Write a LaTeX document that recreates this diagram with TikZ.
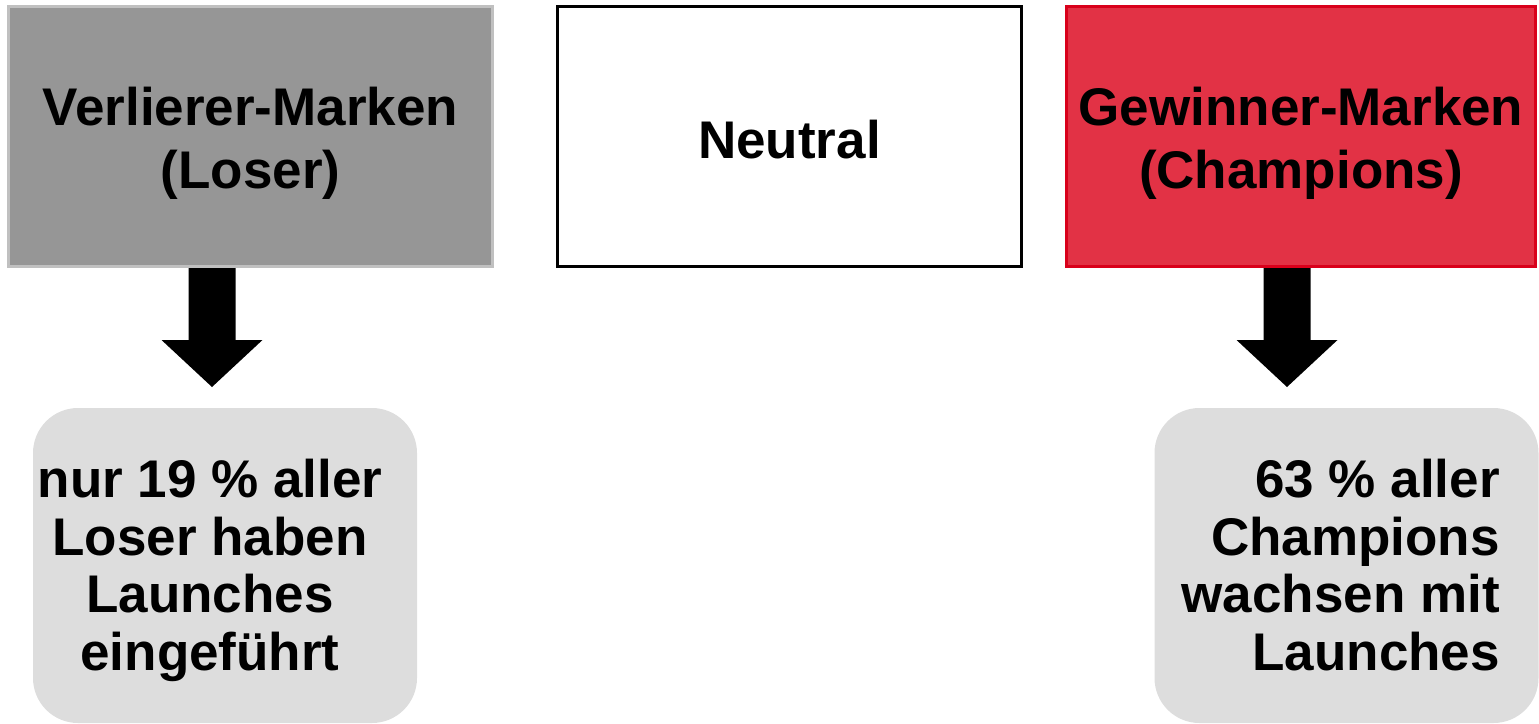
\documentclass[tikz,border=0pt]{standalone}
\usepackage{fontspec}
\setmainfont{Liberation Sans}
\definecolor{loserfill}{HTML}{969696}
\definecolor{loserline}{HTML}{C0C0C0}
\definecolor{champfill}{HTML}{E23245}
\definecolor{champline}{HTML}{D9001B}
\definecolor{notebg}{HTML}{DDDDDD}
\begin{document}
\begin{tikzpicture}[x=1pt,y=-1pt,
  catbox/.style={rectangle, line width=3pt, minimum width=#1,
    minimum height=260pt, inner sep=0pt, outer sep=0pt},
  notebox/.style={rectangle, rounded corners=45pt, fill=notebg,
    minimum width=384pt, minimum height=315pt, inner sep=0pt, outer sep=0pt},
  headtxt/.style={inner sep=0pt, anchor=base, align=center,
    font=\fontsize{53pt}{63pt}\selectfont\bfseries},
  notetxt/.style={inner sep=0pt, align=#1,
    font=\fontsize{53pt}{57.5pt}\selectfont\bfseries},
  blockarrow/.style={fill=black}
]
\useasboundingbox (0,0) rectangle (1539,723);

% category boxes
\node[catbox=484pt, fill=loserfill, draw=loserline] (loser) at (250.5,136.5) {};
\node[catbox=464pt, fill=white, draw=black] (neutral) at (789.5,136.5) {};
\node[catbox=469pt, fill=champfill, draw=champline] (champ) at (1301,136.5) {};

% (base anchor of a multi-line node sits on its last line)
\node[headtxt] (losertxt) at (250.5,188) {Verlierer-Marken\\(Loser)};
\node[headtxt] (neutraltxt) at (789.5,158) {Neutral};
\node[headtxt] (champtxt) at (1301,188) {Gewinner-Marken\\(Champions)};

% result boxes
\node[notebox] (losernote) at (225,565.5) {};
\node[notebox] (champnote) at (1346.5,565.5) {};

\node[notetxt=center, anchor=base] (losernotetxt) at (210,670)
  {nur 19 \% aller\\Loser haben\\Launches\\eingeführt};
\node[notetxt=right, anchor=base east] (champnotetxt) at (1500,670)
  {63 \% aller\\Champions\\wachsen mit\\Launches};

% block arrows below the outer boxes
\coordinate (la) at (212,268);
\coordinate (ra) at (1287,268);
\foreach \c in {la,ra}{
  \fill[blockarrow] (\c) ++(-23.5,0) -- ++(0,72) -- ++(-27,0) -- ++(50.5,47)
    -- ++(50.5,-47) -- ++(-27,0) -- ++(0,-72) -- cycle;
}
\end{tikzpicture}
\end{document}
